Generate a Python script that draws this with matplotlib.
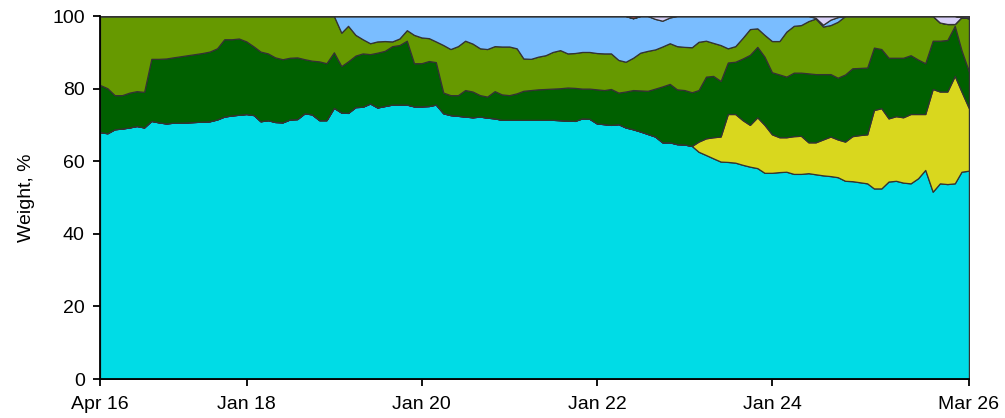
import numpy as np
import pandas as pd
import matplotlib
matplotlib.use('Agg')
import matplotlib.pyplot as plt

# --------------------------------------------------------------------------
# data: monthly weights (%), month ends Apr 2016 .. Mar 2026

dates = pd.date_range('2016-04-30', periods=120, freq='ME')

cyan = [68.0, 67.7, 68.8, 69.0, 69.3, 69.7, 69.3, 71.1, 70.7, 70.4,
        70.6, 70.6, 70.7, 70.8, 70.9, 71.0, 71.5, 72.3, 72.6, 72.8,
        73.0, 72.7, 71.0, 71.3, 70.8, 70.7, 71.5, 71.6, 73.2, 72.9,
        71.3, 71.3, 74.7, 73.4, 73.3, 74.9, 75.0, 75.9, 74.8, 75.2,
        75.6, 75.6, 75.6, 75.1, 75.1, 75.2, 75.6, 73.2, 72.7, 72.5,
        72.3, 72.1, 72.3, 72.0, 71.8, 71.4, 71.4, 71.4, 71.4, 71.4,
        71.4, 71.4, 71.4, 71.3, 71.2, 71.1, 71.8, 71.7, 70.4, 70.2,
        70.0, 70.2, 69.3, 68.8, 68.2, 67.5, 66.8, 65.2, 65.2, 64.7,
        64.6, 64.2, 62.6, 61.7, 60.8, 59.9, 59.8, 59.6, 59.0, 58.5,
        58.1, 56.8, 56.8, 57.0, 57.1, 56.5, 56.5, 56.7, 56.4, 56.1,
        55.9, 55.6, 54.6, 54.5, 54.2, 53.9, 52.5, 52.5, 54.4, 54.6,
        54.1, 53.9, 55.3, 57.6, 51.6, 53.9, 53.7, 53.9, 57.1, 57.4]

yellow = [0.0] * 82 + [
    2.8, 4.6, 5.8, 6.9, 13.2, 13.4, 12.3, 11.5, 14.0, 13.2,
    10.6, 9.6, 9.5, 10.4, 10.5, 8.5, 8.8, 9.9, 10.9, 10.4,
    10.8, 12.4, 13.0, 13.5, 21.6, 22.1, 17.4, 17.8, 18.0, 19.1,
    17.7, 15.4, 28.3, 25.3, 25.5, 29.6, 22.1, 17.2]

dark_green = [13.0, 12.4, 9.4, 9.2, 9.6, 9.6, 9.8, 17.1, 17.5, 17.9,
              18.0, 18.3, 18.5, 18.7, 18.9, 19.2, 19.6, 21.3, 21.0, 21.0,
              20.0, 18.9, 19.2, 18.4, 17.8, 17.4, 17.0, 17.0, 14.9, 14.8,
              16.2, 15.7, 15.3, 12.8, 14.2, 14.2, 14.7, 13.6, 15.1, 15.2,
              16.1, 16.4, 17.6, 11.9, 11.9, 12.4, 11.7, 5.7, 5.5, 5.7,
              7.3, 7.1, 5.9, 5.8, 7.5, 7.0, 6.8, 7.3, 8.0, 8.2,
              8.4, 8.5, 8.6, 8.8, 9.1, 9.1, 8.2, 8.3, 9.4, 9.4,
              9.9, 8.7, 9.9, 10.8, 11.3, 11.9, 13.2, 15.4, 16.1, 15.1,
              15.0, 14.8, 14.2, 17.0, 16.9, 15.3, 14.2, 14.4, 17.0, 19.3,
              19.4, 18.8, 17.1, 17.3, 16.7, 17.5, 17.4, 19.0, 18.8, 18.0,
              17.2, 17.0, 18.5, 18.7, 18.5, 18.4, 17.2, 16.3, 16.7, 16.1,
              16.4, 16.2, 15.0, 14.0, 13.3, 14.0, 14.2, 13.8, 11.4, 10.1]

olive = [19.0, 19.9, 21.8, 21.8, 21.1, 20.7, 20.9, 11.8, 11.8, 11.7,
         11.4, 11.1, 10.8, 10.5, 10.2, 9.8, 8.9, 6.4, 6.4, 6.2,
         7.0, 8.4, 9.8, 10.3, 11.4, 11.9, 11.5, 11.4, 11.9, 12.3,
         12.5, 13.0, 10.0, 9.2, 9.8, 5.7, 3.9, 3.0, 3.1, 2.7,
         1.3, 1.8, 2.9, 7.8, 7.1, 6.3, 5.7, 13.1, 12.7, 13.5,
         13.6, 13.2, 12.9, 13.1, 12.4, 13.2, 13.4, 12.4, 8.9, 8.6,
         9.0, 9.3, 10.1, 10.5, 9.4, 9.6, 10.1, 10.1, 10.0, 10.1,
         9.8, 9.0, 8.2, 8.9, 10.4, 11.0, 10.8, 11.0, 11.2, 11.9,
         11.9, 12.4, 13.3, 9.9, 9.1, 9.9, 3.9, 4.3, 5.7, 7.1,
         5.1, 6.0, 8.6, 9.2, 12.4, 12.9, 13.1, 14.4, 15.3, 13.1,
         13.5, 15.4, 16.1, 14.4, 14.3, 14.2, 8.7, 9.1, 11.5, 11.5,
         11.5, 10.8, 12.0, 13.0, 6.8, 5.0, 4.4, 0.5, 9.1, 14.7]

light_blue = [0.0] * 33 + [
    4.6, 2.7, 5.2, 6.4, 7.5, 7.0, 6.9, 7.0, 6.2, 3.9,
    5.2, 5.9, 6.1, 7.0, 8.0, 9.1, 8.3, 6.8, 7.6, 8.9,
    9.1, 8.3, 8.4, 8.4, 8.9, 11.7, 11.8, 11.2, 10.8, 9.9,
    9.4, 10.3, 10.2, 9.9, 9.9, 10.2, 10.3, 10.3, 12.1, 12.6,
    10.9, 10.1, 9.6, 8.4, 7.1, 7.1, 8.3, 8.5, 8.6, 7.1,
    6.8, 7.4, 8.0, 8.9, 8.3, 6.0, 3.6, 3.4, 5.2, 6.9,
    6.9, 4.3, 2.7, 2.5, 1.4, 0.2, 0.5, 1.5, 1.3] + [0.0] * 18

lavender = [0.0] * 120
for k, v in {76: 0.8, 77: 1.3, 78: 0.4, 98: 0.5, 99: 2.4, 100: 1.0,
             101: 0.3, 115: 1.8, 116: 2.2, 117: 2.2}.items():
    lavender[k] = v

red = [0.0] * 120
red[73] = 0.6

other = [0.0] * 120
other[118] = 0.3
other[119] = 0.6

series = [cyan, yellow, dark_green, olive, light_blue, lavender, red, other]
colors = ['#00DCE6', '#D9D71E', '#006000', '#669900', '#7ABDFF',
          '#D8D0F8', '#C04040', '#3A3A5A']

# --------------------------------------------------------------------------
# plot

plt.rcParams['font.family'] = ['Liberation Sans', 'DejaVu Sans']

fig = plt.figure(figsize=(10.05, 4.18), dpi=100)
ax = fig.add_axes([0.0995, 0.0933, 0.8646, 0.8684])

ax.stackplot(dates, *series, colors=colors, edgecolor='#333333', linewidth=0.9)

ax.set_xlim(dates[0], dates[-1])
ax.set_ylim(0, 100)
ax.set_yticks([0, 20, 40, 60, 80, 100])

xticks = [dates[0], pd.Timestamp('2018-01-01'), pd.Timestamp('2020-01-01'),
          pd.Timestamp('2022-01-01'), pd.Timestamp('2024-01-01'), dates[-1]]
ax.set_xticks(xticks)
ax.set_xticklabels(['Apr 16', 'Jan 18', 'Jan 20', 'Jan 22', 'Jan 24', 'Mar 26'])

ax.set_ylabel('Weight, %', fontsize=14, labelpad=12)
ax.tick_params(labelsize=14, direction='out', length=5, width=1.3)
ax.tick_params(axis='x', pad=7)
ax.tick_params(axis='y', pad=6)

for s in ['top', 'right']:
    ax.spines[s].set_visible(False)
for s in ['left', 'bottom']:
    ax.spines[s].set_linewidth(1.3)
    ax.spines[s].set_zorder(5)

fig.savefig('out.png', dpi=100)
